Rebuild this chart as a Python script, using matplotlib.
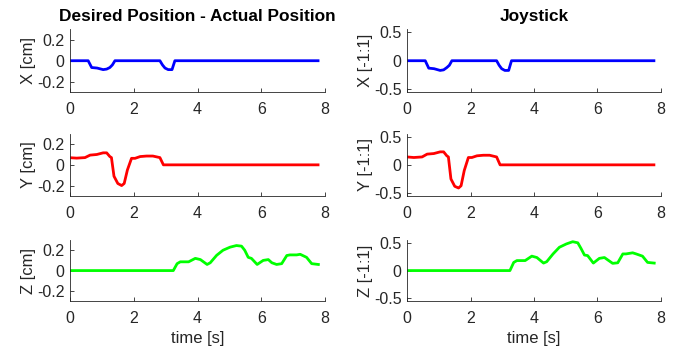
import numpy as np
import matplotlib
matplotlib.use('Agg')
import matplotlib.pyplot as plt

plt.rcParams['font.family'] = ['Liberation Sans', 'DejaVu Sans']

# X: desired - actual [cm] and joystick [-1:1]
t_x = [0, 0.57, 0.68, 0.85, 1.04, 1.15, 1.25, 1.33, 1.41, 2.82, 2.9, 2.98, 3.08, 3.2, 3.29, 7.78]
x_cm = [0, 0, -0.065, -0.07, -0.085, -0.08, -0.065, -0.04, 0, 0, -0.04, -0.07, -0.085, -0.085, 0, 0]
x_joy = [0, 0, -0.13, -0.14, -0.17, -0.16, -0.12, -0.08, 0, 0, -0.08, -0.14, -0.17, -0.17, 0, 0]

# Y
t_y = [0, 0.21, 0.47, 0.63, 0.84, 1.04, 1.15, 1.25, 1.3, 1.38, 1.5, 1.62, 1.7, 1.8,
       1.93, 2.04, 2.2, 2.4, 2.6, 2.82, 2.93, 7.78]
y_cm = [0.069, 0.065, 0.07, 0.094, 0.1, 0.116, 0.116, 0.08, 0.07, -0.11, -0.18, -0.2, -0.18, -0.05,
        0.063, 0.063, 0.08, 0.085, 0.085, 0.07, 0, 0]
y_joy = [0.14, 0.13, 0.14, 0.19, 0.2, 0.23, 0.23, 0.16, 0.14, -0.25, -0.38, -0.41, -0.37, -0.1,
         0.13, 0.13, 0.16, 0.17, 0.17, 0.14, 0, 0]

# Z
t_z = [0, 3.24, 3.36, 3.46, 3.72, 3.93, 4.09, 4.3, 4.4, 4.6, 4.8, 5.02, 5.22, 5.38, 5.48, 5.59,
       5.69, 5.87, 6.06, 6.22, 6.33, 6.48, 6.64, 6.8, 6.9, 7.11, 7.22, 7.42, 7.58, 7.79]
z_cm = [0, 0, 0.068, 0.086, 0.086, 0.12, 0.108, 0.06, 0.077, 0.15, 0.2, 0.23, 0.246, 0.24, 0.2, 0.13,
        0.12, 0.06, 0.1, 0.108, 0.077, 0.06, 0.068, 0.148, 0.154, 0.154, 0.16, 0.13, 0.068, 0.06]
z_joy = [0, 0, 0.147, 0.18, 0.18, 0.26, 0.235, 0.135, 0.16, 0.3, 0.42, 0.48, 0.52, 0.5, 0.4, 0.28,
         0.27, 0.135, 0.22, 0.235, 0.19, 0.13, 0.14, 0.3, 0.3, 0.32, 0.3, 0.26, 0.147, 0.135]

rows = [(t_x, x_cm, x_joy, 'X', 'b'), (t_y, y_cm, y_joy, 'Y', 'r'), (t_z, z_cm, z_joy, 'Z', (0, 1, 0))]

fig = plt.figure(figsize=(6.73, 3.53), dpi=100)
bottoms = [0.739, 0.445, 0.147]
heights = [0.178, 0.176, 0.173]
lefts = [0.104, 0.605]
widths = [0.379, 0.377]
grey = '#262626'

for i, (t, vcm, vjoy, name, col) in enumerate(rows):
    for j in range(2):
        ax = fig.add_axes([lefts[j], bottoms[i], widths[j], heights[i]])
        if j == 0:
            ax.plot(t, vcm, color=col, lw=2)
            ax.set_ylim(-0.3, 0.3)
            ax.set_yticks([-0.2, 0, 0.2])
            ax.set_yticklabels(['-0.2', '0', '0.2'])
            ax.set_ylabel(name + ' [cm]', fontsize=12, color=grey, labelpad=1)
        else:
            ax.plot(t, vjoy, color=col, lw=2)
            ax.set_ylim(-0.55, 0.55)
            ax.set_yticks([-0.5, 0, 0.5])
            ax.set_yticklabels(['-0.5', '0', '0.5'])
            ax.set_ylabel(name + ' [-1:1]', fontsize=12, color=grey, labelpad=1)
        ax.set_xlim(0, 8)
        ax.set_xticks([0, 2, 4, 6, 8])
        for s in ['top', 'right']:
            ax.spines[s].set_visible(False)
        for s in ['left', 'bottom']:
            ax.spines[s].set_color(grey)
            ax.spines[s].set_linewidth(0.6)
        ax.tick_params(direction='in', length=3, width=0.6, colors=grey, labelsize=11.5)
        ax.tick_params(axis='x', pad=7)
        ax.tick_params(axis='y', pad=4)
        if i == 0:
            ax.set_title('Desired Position - Actual Position' if j == 0 else 'Joystick',
                         fontsize=12.4, fontweight='bold', pad=6)
        if i == 2:
            ax.set_xlabel('time [s]', fontsize=12, color=grey, labelpad=4)

fig.savefig('out.png', dpi=100)
